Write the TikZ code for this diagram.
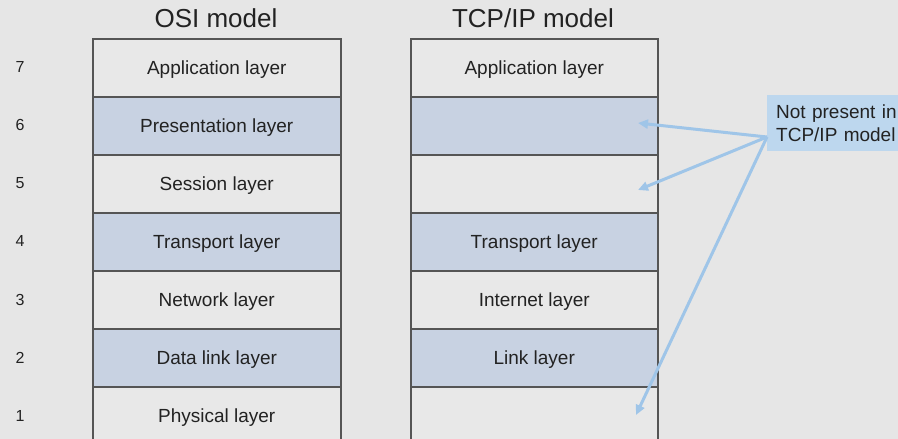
\documentclass[tikz,border=0pt]{standalone}
\usepackage{fontspec}
\setmainfont{Liberation Sans}
\usetikzlibrary{arrows.meta}
\definecolor{bg}{HTML}{E6E6E6}
\definecolor{rowblue}{HTML}{C8D2E2}
\definecolor{rowwhite}{HTML}{E8E8E8}
\definecolor{edge}{HTML}{555555}
\definecolor{ink}{HTML}{222222}
\definecolor{notefill}{HTML}{BDD7EE}
\definecolor{arrowc}{HTML}{9FC5E8}
\tikzset{
  layer/.style={draw=edge, line width=1.5pt, minimum width=248pt, minimum height=58pt,
    inner sep=0pt, text height=13.6pt, text depth=0pt, text=ink,
    font=\fontsize{19}{22}\selectfont, anchor=north west},
  bluerow/.style={layer, fill=rowblue},
  whiterow/.style={layer, fill=rowwhite},
  num/.style={text=ink, font=\fontsize{16}{18}\selectfont},
  title/.style={text=ink, font=\fontsize{26}{30}\selectfont},
  pointer/.style={draw=arrowc, line width=3pt, -{Triangle[length=10pt,width=9pt]}}
}
\begin{document}
\begin{tikzpicture}[x=1pt,y=-1pt]
\fill[bg] (0,0) rectangle (898,439);
\useasboundingbox (0,0) rectangle (898,439);
% titles
\node[title] (osititle) at (216,18.5) {OSI model};
\node[title] (tcptitle) at (533,18.5) {TCP/IP model};
% OSI column
\node[whiterow] (o7) at (92,38)  {Application layer};
\node[bluerow]  (o6) at (92,96)  {Presentation layer};
\node[whiterow] (o5) at (92,154) {Session layer};
\node[bluerow]  (o4) at (92,212) {Transport layer};
\node[whiterow] (o3) at (92,270) {Network layer};
\node[bluerow]  (o2) at (92,328) {Data link layer};
\node[whiterow] (o1) at (92,386) {Physical layer};
% TCP/IP column
\node[whiterow, minimum width=247pt] (t7) at (410,38)  {Application layer};
\node[bluerow, minimum width=247pt]  (t6) at (410,96)  {};
\node[whiterow, minimum width=247pt] (t5) at (410,154) {};
\node[bluerow, minimum width=247pt]  (t4) at (410,212) {Transport layer};
\node[whiterow, minimum width=247pt] (t3) at (410,270) {Internet layer};
\node[bluerow, minimum width=247pt]  (t2) at (410,328) {Link layer};
\node[whiterow, minimum width=247pt] (t1) at (410,386) {};
% layer numbers
\node[num] (n7) at (20,67)  {7};
\node[num] (n6) at (20,125) {6};
\node[num] (n5) at (20,183) {5};
\node[num] (n4) at (20,241) {4};
\node[num] (n3) at (20,300) {3};
\node[num] (n2) at (20,358) {2};
\node[num] (n1) at (20,416) {1};
% note
\node[fill=notefill, anchor=north west, minimum width=140pt, minimum height=56pt,
      inner xsep=9pt, inner ysep=0pt, text width=122pt, align=left, text=ink,
      font=\fontsize{19}{23}\selectfont] (note) at (767,95) {Not present in\\TCP/IP model};
\coordinate (src) at (767,137);
\coordinate (e6) at (638,123);
\coordinate (e5) at (638,190);
\coordinate (e1) at (636,415);
\draw[pointer] (src) -- (e6);
\draw[pointer] (src) -- (e5);
\draw[pointer] (src) -- (e1);
\end{tikzpicture}
\end{document}
